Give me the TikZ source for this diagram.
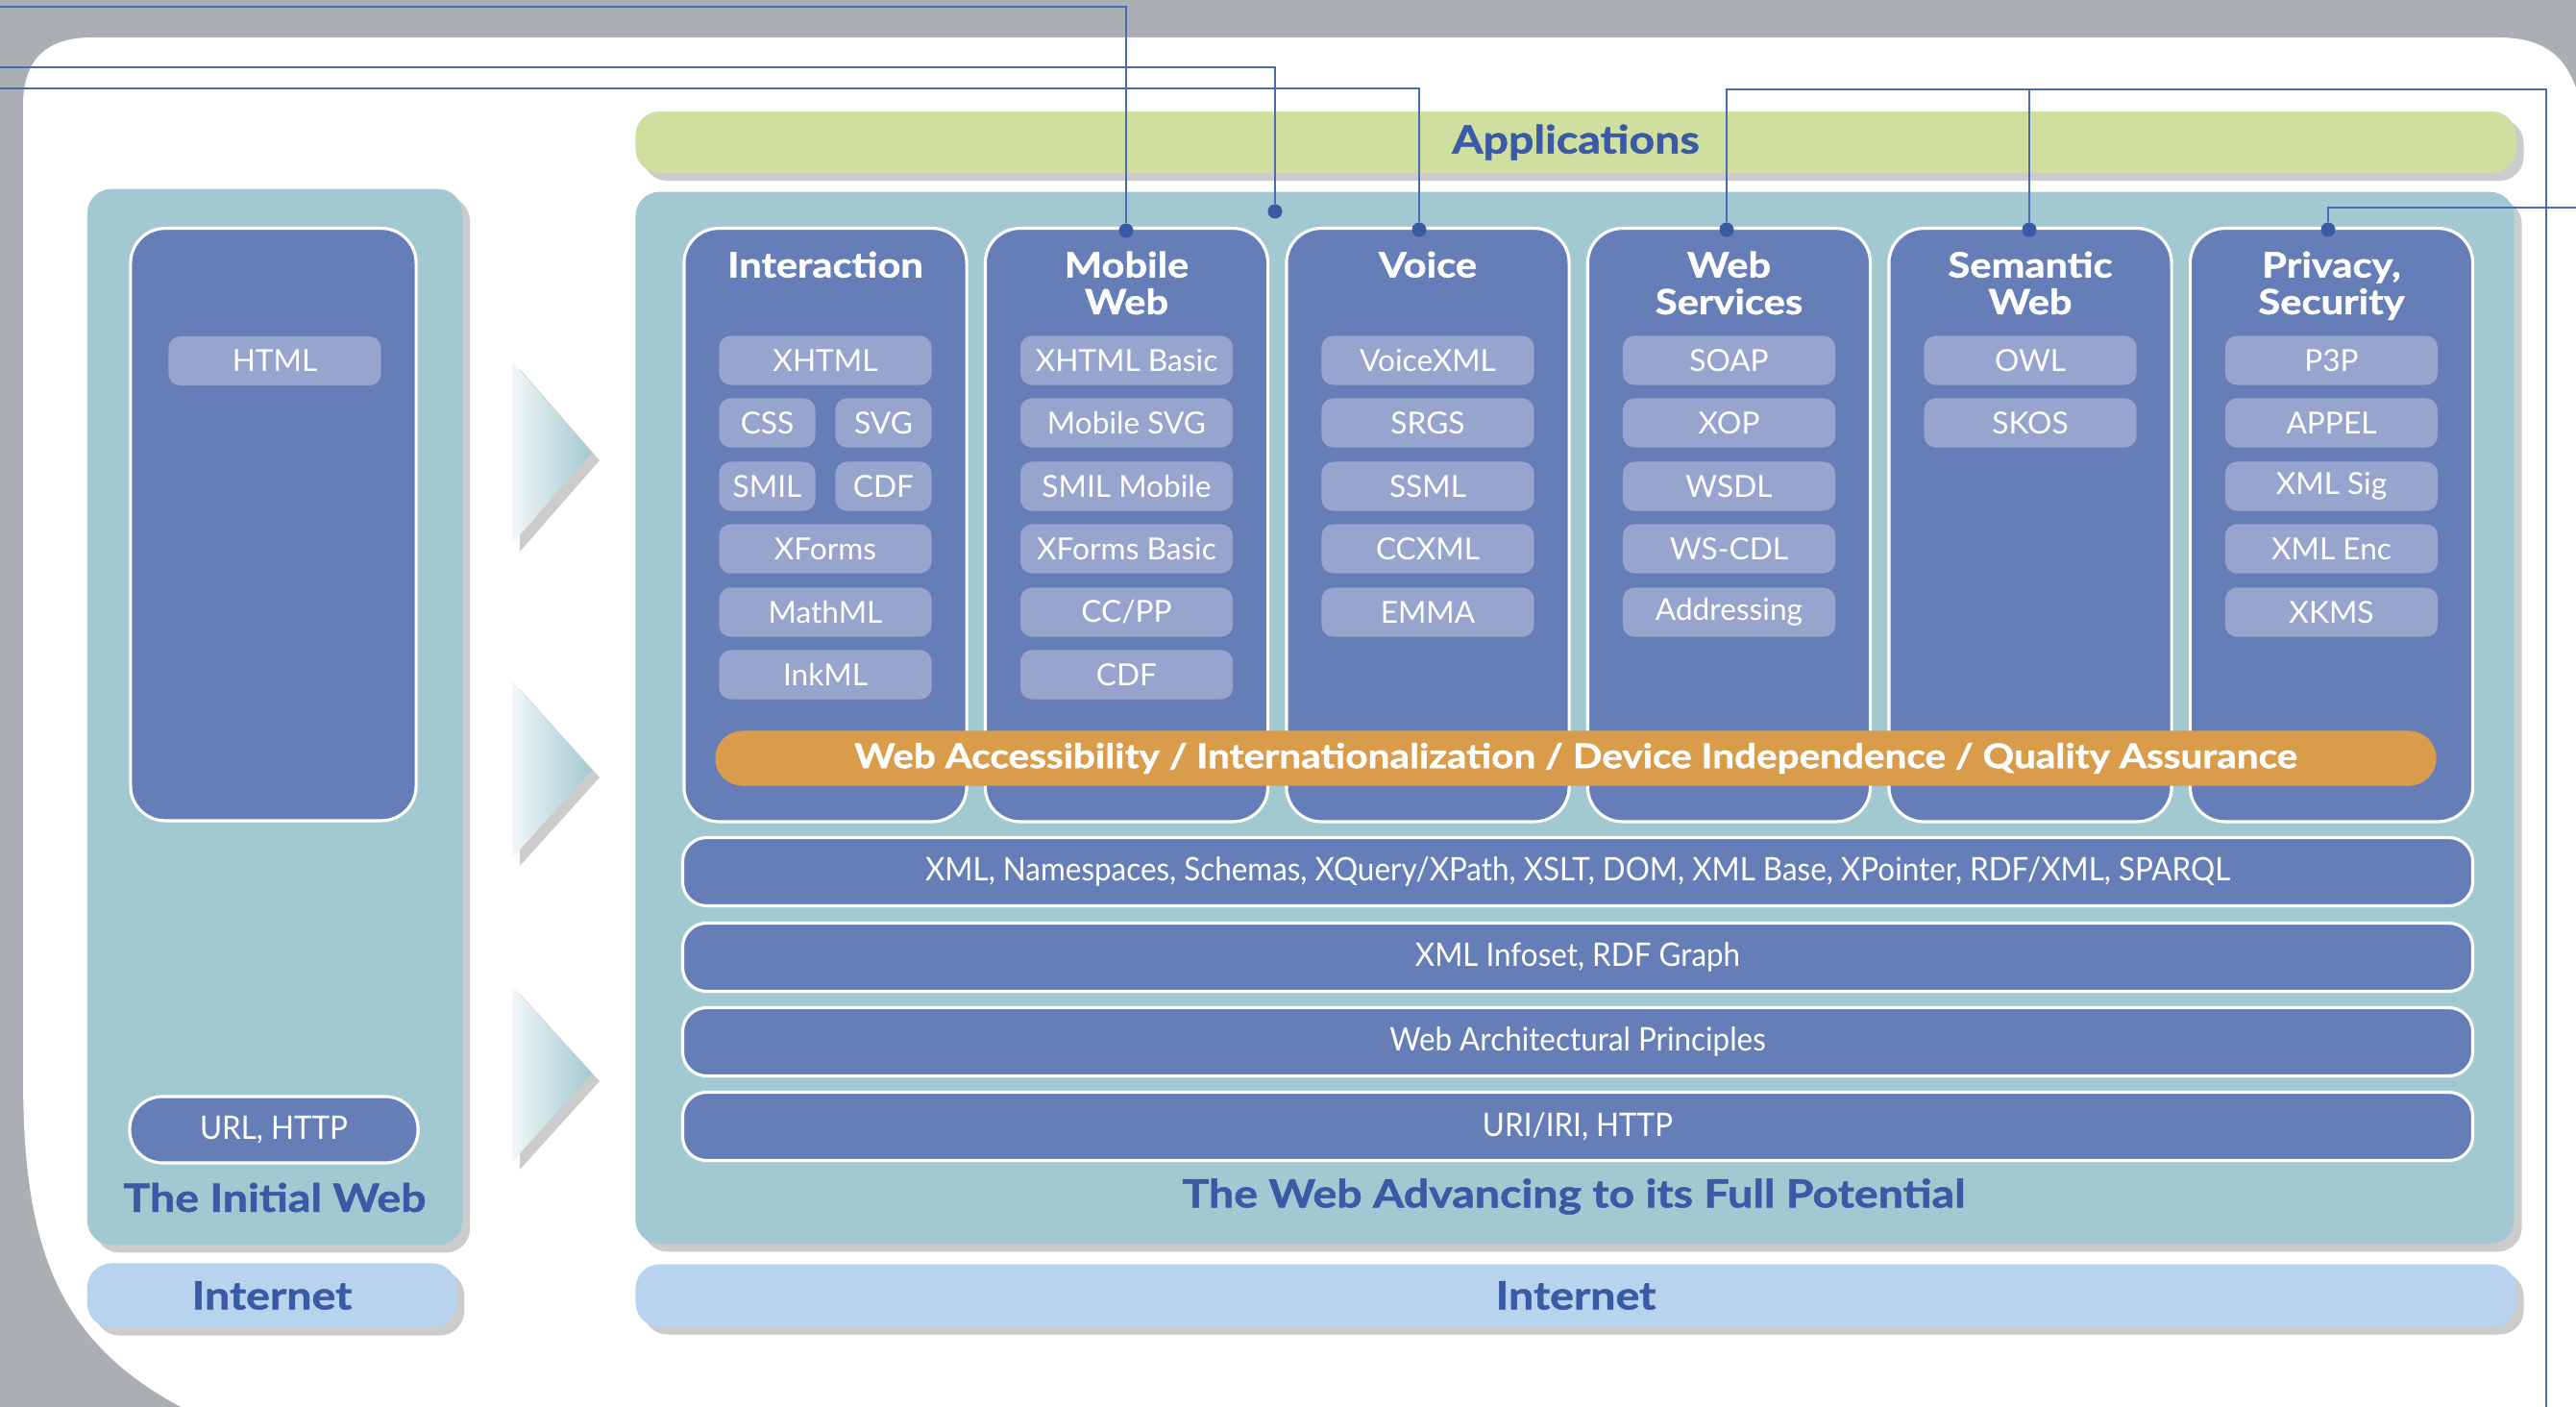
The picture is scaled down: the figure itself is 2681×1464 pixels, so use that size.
\documentclass[tikz,border=0pt]{standalone}
\usepackage{fontspec}
\setmainfont{Lato}
\newfontfamily\heavyfont{Lato}[BoldFeatures={FakeBold=1.2,FakeStretch=1.15}]
\newfontfamily\narrowfont{Lato}[FakeStretch=0.93]
\usetikzlibrary{shadows}
\definecolor{bggray}{RGB}{171,174,179}
\definecolor{tealbox}{RGB}{162,201,209}
\definecolor{colblue}{RGB}{102,126,183}
\definecolor{pillblue}{RGB}{151,164,206}
\definecolor{appgreen}{RGB}{207,223,160}
\definecolor{netblue}{RGB}{184,211,237}
\definecolor{accorange}{RGB}{216,156,74}
\definecolor{titleblue}{RGB}{58,90,165}
\definecolor{linkblue}{RGB}{74,106,178}
\begin{document}
\begin{tikzpicture}[x=0.01cm,y=-0.01cm,
  shad/.style={drop shadow={opacity=0.4,shadow xshift=0.8mm,shadow yshift=-0.8mm}},
  panel/.style={fill=tealbox,rounded corners=2.5mm,shad,inner sep=0},
  band/.style={fill=#1,rounded corners=2.5mm,shad,inner sep=0,text=titleblue,font=\heavyfont\fontsize{11.5}{12}\selectfont\bfseries},
  column/.style={fill=colblue,draw=white,line width=0.9pt,rounded corners=3.6mm,minimum width=2.94cm,minimum height=6.17cm,anchor=north,inner sep=0},
  head/.style={text=white,font=\heavyfont\fontsize{10.3}{10.9}\selectfont\bfseries,align=center,anchor=north,inner sep=0},
  pill/.style={fill=pillblue,rounded corners=1.2mm,minimum width=2.21cm,minimum height=0.51cm,text=white,font=\fontsize{9}{9}\selectfont,inner sep=0},
  half/.style={pill,minimum width=1.0cm},
  layer/.style={fill=colblue,draw=white,line width=0.9pt,rounded corners=2.5mm,minimum width=18.62cm,minimum height=0.71cm,text=white,font=\narrowfont\fontsize{9.6}{10}\selectfont,inner sep=0},
  title/.style={text=titleblue,font=\heavyfont\fontsize{11.5}{12}\selectfont\bfseries,inner sep=0},
  dot/.style={circle,fill=titleblue,minimum size=1.5mm,inner sep=0},
  link/.style={draw=linkblue,line width=0.6pt},
  chev/.style={left color=tealbox!15,right color=tealbox,shad}]
   % 背景
   \useasboundingbox (0,0) rectangle (2681,1464);
   \fill[bggray] (0,0) rectangle (2681,1464);
   \fill[white] (24,1120) -- (24,110) .. controls (24,60) and (50,39) .. (96,39) -- (2600,39)
      .. controls (2660,39) and (2681,70) .. (2690,130) -- (2690,1470) -- (200,1470)
      .. controls (60,1400) and (24,1300) .. (24,1120) -- cycle;

   % 土台
   \node[panel,minimum width=3.9cm,minimum height=10.98cm] (initweb) at (286,746) {};
   \node[panel,minimum width=19.54cm,minimum height=10.94cm] (fullweb) at (1639,747) {};
   \node[band=appgreen,minimum width=19.56cm,minimum height=0.64cm] (apps) at (1640,148) {Applications};
   \node[band=netblue,minimum width=3.84cm,minimum height=0.67cm] (net1) at (283,1348) {Internet};
   \node[band=netblue,minimum width=19.56cm,minimum height=0.65cm] (net2) at (1640,1348) {Internet};

   % 矢印
   \shade[chev] (533,376) -- (616,471) -- (533,566) -- cycle;
   \shade[chev] (533,709) -- (616,801) -- (533,893) -- cycle;
   \shade[chev] (533,1026) -- (616,1117) -- (533,1209) -- cycle;

   % The Initial Web
   \node[column,minimum width=2.97cm,minimum height=6.16cm] (initbox) at (284.5,236) {};
   \node[pill] (html) at (286,375.5) {HTML};
   \node[fill=colblue,draw=white,line width=0.9pt,rounded corners=3.4mm,minimum width=3.0cm,minimum height=0.69cm,
      text=white,font=\narrowfont\fontsize{9.6}{10}\selectfont,inner sep=0] (urlhttp) at (285,1175.5) {URL, HTTP};
   \node[title] (initt) at (286,1246) {The Initial Web};

   % 列
   \node[column] (inter) at (859,236) {};
   \node[column] (mobile) at (1172.5,236) {};
   \node[column] (voice) at (1486,236) {};
   \node[column] (websvc) at (1799.5,236) {};
   \node[column] (semweb) at (2113,236) {};
   \node[column] (privsec) at (2426.5,236) {};

   \node[head] (hinter) at (859,261) {Interaction};
   \node[head] (hmobile) at (1172.5,261) {Mobile\\Web};
   \node[head] (hvoice) at (1486,261) {Voice};
   \node[head] (hwebsvc) at (1799.5,261) {Web\\Services};
   \node[head] (hsemweb) at (2113,261) {Semantic\\Web};
   \node[head] (hprivsec) at (2426.5,261) {Privacy,\\Security};

   \node[pill] (xhtml) at (859,375) {XHTML};
   \node[half] (css) at (798.5,440) {CSS};
   \node[half] (svg) at (919.5,440) {SVG};
   \node[half] (smil) at (798.5,506) {SMIL};
   \node[half] (cdf) at (919.5,506) {CDF};
   \node[pill] (xforms) at (859,571) {XForms};
   \node[pill] (mathml) at (859,637) {MathML};
   \node[pill] (inkml) at (859,702) {InkML};

   \node[pill] (xhtmlb) at (1172.5,375) {XHTML Basic};
   \node[pill] (msvg) at (1172.5,440) {Mobile SVG};
   \node[pill] (smilm) at (1172.5,506) {SMIL Mobile};
   \node[pill] (xformsb) at (1172.5,571) {XForms Basic};
   \node[pill] (ccpp) at (1172.5,637) {CC/PP};
   \node[pill] (cdfm) at (1172.5,702) {CDF};

   \node[pill] (vxml) at (1486,375) {VoiceXML};
   \node[pill] (srgs) at (1486,440) {SRGS};
   \node[pill] (ssml) at (1486,506) {SSML};
   \node[pill] (ccxml) at (1486,571) {CCXML};
   \node[pill] (emma) at (1486,637) {EMMA};

   \node[pill] (soap) at (1799.5,375) {SOAP};
   \node[pill] (xop) at (1799.5,440) {XOP};
   \node[pill] (wsdl) at (1799.5,506) {WSDL};
   \node[pill] (wscdl) at (1799.5,571) {WS-CDL};
   \node[pill] (addr) at (1799.5,637) {Addressing};

   \node[pill] (owl) at (2113,375) {OWL};
   \node[pill] (skos) at (2113,440) {SKOS};

   \node[pill] (p3p) at (2426.5,375) {P3P};
   \node[pill] (appel) at (2426.5,440) {APPEL};
   \node[pill] (xmlsig) at (2426.5,506) {XML Sig};
   \node[pill] (xmlenc) at (2426.5,571) {XML Enc};
   \node[pill] (xkms) at (2426.5,637) {XKMS};

   \node[fill=accorange,rounded corners=2.8mm,minimum width=17.9cm,minimum height=0.57cm,text=white,
      font=\heavyfont\fontsize{10}{11}\selectfont\bfseries,inner sep=0] (access) at (1640,789)
      {Web Accessibility / Internationalization / Device Independence / Quality Assurance};

   % 層
   \node[layer] (xmlstack) at (1642,907) {XML, Namespaces, Schemas, XQuery/XPath, XSLT, DOM, XML Base, XPointer, RDF/XML, SPARQL};
   \node[layer] (infoset) at (1642,996) {XML Infoset, RDF Graph};
   \node[layer] (webarch) at (1642,1084) {Web Architectural Principles};
   \node[layer] (uri) at (1642,1172) {URI/IRI, HTTP};
   \node[title] (fullt) at (1638,1245) {The Web Advancing to its Full Potential};

   % 引出線
   \node[dot] (dmobile) at (1172,240) {};
   \node[dot] (dgap) at (1327,220) {};
   \node[dot] (dvoice) at (1477,239) {};
   \node[dot] (dwebsvc) at (1797,239) {};
   \node[dot] (dsemweb) at (2112,239) {};
   \node[dot] (dprivsec) at (2423,239) {};
   \coordinate (eA) at (0,7);
   \coordinate (eB) at (0,70);
   \coordinate (eC) at (0,92);
   \coordinate (kD) at (2650,93);
   \coordinate (eD) at (2650,1464);
   \coordinate (eE) at (2681,216);
   \draw[link] (dmobile) |- (eA);
   \draw[link] (dgap) |- (eB);
   \draw[link] (dvoice) |- (eC);
   \draw[link] (dwebsvc) |- (kD) -- (eD);
   \draw[link] (dsemweb) -- (dsemweb |- kD);
   \draw[link] (dprivsec) |- (eE);
\end{tikzpicture}
\end{document}
